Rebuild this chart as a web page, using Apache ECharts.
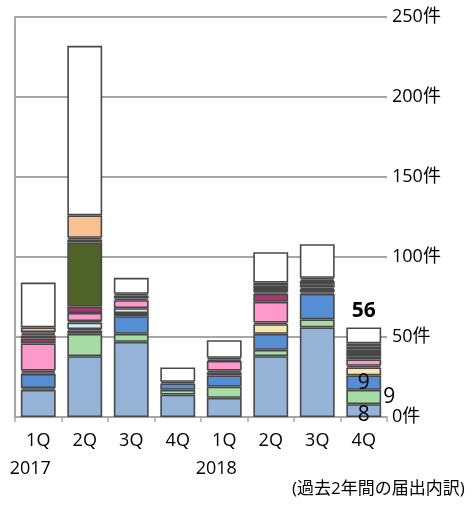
<!DOCTYPE html>
<html>
<head>
<meta charset="utf-8">
<script src="https://cdn.jsdelivr.net/npm/echarts@6/dist/echarts.min.js"></script>
<style>
  html, body { margin: 0; padding: 0; background: #ffffff; }
  #main { width: 472px; height: 520px; }
</style>
</head>
<body>
<div id="main"></div>
<script>
// Quarter categories and the year shown under the first quarter of each year
const quarters = ['1Q', '2Q', '3Q', '4Q', '1Q', '2Q', '3Q', '4Q'];
const years = ['2017', '', '', '', '2018', '', '', ''];

// Value axis ticks
const yTicks = [0, 50, 100, 150, 200, 250];

// Notification counts per type, stacked bottom to top
const lightBlue = [17, 38, 47, 14, 12, 38, 56, 8];
const green     = [1, 14, 5, 3, 7, 4, 5, 9];
const blue      = [9, 2, 11, 4, 7, 10, 16, 9];
const yellow    = [1, 1, 2, 0, 2, 6, 1, 5];
const cyan      = [1, 4, 3, 1, 1, 1, 2, 1];
const slate     = [0, 1, 0, 0, 0, 0, 1, 0];
const pink      = [17, 5, 5, 0, 6, 13, 2, 4];
const magenta   = [3, 4, 1, 0, 1, 5, 0, 2];
const darkGreen = [2, 40, 2, 0, 0, 1, 2, 2];
const darkRed   = [1, 2, 1, 0, 1, 2, 1, 2];
const paleBlue  = [1, 1, 0, 0, 0, 2, 1, 2];
const peach     = [3, 14, 0, 0, 0, 2, 0, 2];
const others    = [28, 106, 10, 9, 11, 19, 21, 10];

const subtitle = '(過去2年間の届出内訳)';

const font = '"Open Sans", "Noto Sans CJK JP", sans-serif';
const labelFont = '"Open Sans", "Liberation Sans", sans-serif';

const layers = [
  { name: 'lightBlue', values: lightBlue, color: '#95B3D7' },
  { name: 'green',     values: green,     color: '#A6DCA6' },
  { name: 'blue',      values: blue,      color: '#558ED5' },
  { name: 'yellow',    values: yellow,    color: '#F7E6B2' },
  { name: 'cyan',      values: cyan,      color: '#D3ECF3' },
  { name: 'slate',     values: slate,     color: '#7F7F7F' },
  { name: 'pink',      values: pink,      color: '#FF99CC' },
  { name: 'magenta',   values: magenta,   color: '#A8386F' },
  { name: 'darkGreen', values: darkGreen, color: '#4F6228' },
  { name: 'darkRed',   values: darkRed,   color: '#7B2B2B' },
  { name: 'paleBlue',  values: paleBlue,  color: '#B9CDE5' },
  { name: 'peach',     values: peach,     color: '#FAC090' },
  { name: 'others',    values: others,    color: '#FFFFFF' }
];

const lastIdx = quarters.length - 1;
const totals = quarters.map((_, i) => layers.reduce((s, l) => s + l.values[i], 0));

// Value labels on the latest quarter
const pointLabels = {
  lightBlue: { show: true, position: 'inside', offset: [0, 4], fontSize: 21, color: '#000', fontFamily: labelFont },
  green:     { show: true, position: 'right', distance: 2, fontSize: 21, color: '#000', fontFamily: labelFont },
  blue:      { show: true, position: 'inside', fontSize: 21, color: '#000', fontFamily: labelFont },
  others:    { show: true, position: 'top', distance: 6, fontSize: 21, fontWeight: 'bold', color: '#000',
               fontFamily: labelFont, formatter: () => String(totals[lastIdx]) }
};

const series = layers.map(l => ({
  name: l.name,
  type: 'bar',
  stack: 'total',
  barWidth: '75%',
  itemStyle: { color: l.color, borderColor: '#484848', borderWidth: 1.6 },
  data: l.values.map((v, i) => {
    const item = { value: v === 0 ? null : v };
    if (i === lastIdx && pointLabels[l.name]) item.label = pointLabels[l.name];
    return item;
  })
}));

const chart = echarts.init(document.getElementById('main'), null, { renderer: 'canvas' });
chart.setOption({
  animation: false,
  backgroundColor: '#ffffff',
  grid: { left: 15, right: 85, top: 17, bottom: 103 },
  xAxis: {
    type: 'category',
    data: quarters,
    axisLine: { show: true, lineStyle: { color: '#A6A6A6', width: 2 } },
    axisTick: { show: true, length: 5, lineStyle: { color: '#A6A6A6', width: 1.5 } },
    axisLabel: {
      interval: 0,
      margin: 10,
      formatter: (val, i) => '{q|' + val + '}\n{y|' + (years[i] || ' ') + '}',
      rich: {
        q: { fontSize: 18, lineHeight: 28, color: '#000', fontFamily: font },
        y: { fontSize: 18, lineHeight: 28, color: '#000', fontFamily: font, padding: [0, 16, 0, 0] }
      }
    }
  },
  yAxis: [
    {
      type: 'value',
      position: 'right',
      min: yTicks[0],
      max: yTicks[yTicks.length - 1],
      interval: yTicks[1] - yTicks[0],
      axisLine: { show: false },
      axisTick: { show: false },
      splitLine: { show: true, lineStyle: { color: '#A6A6A6', width: 2 } },
      axisLabel: { margin: 5, fontSize: 18, color: '#000', fontFamily: font, formatter: '{value}件' }
    },
    {
      type: 'value',
      position: 'left',
      min: yTicks[0],
      max: yTicks[yTicks.length - 1],
      interval: yTicks[1] - yTicks[0],
      axisLine: { show: true, lineStyle: { color: '#A6A6A6', width: 2 } },
      axisTick: { show: false },
      axisLabel: { show: false },
      splitLine: { show: false }
    }
  ],
  series: series,
  graphic: [{
    type: 'text',
    left: 292,
    top: 481,
    style: { text: subtitle, fill: '#000', font: '17px ' + font }
  }]
});
</script>
</body>
</html>
